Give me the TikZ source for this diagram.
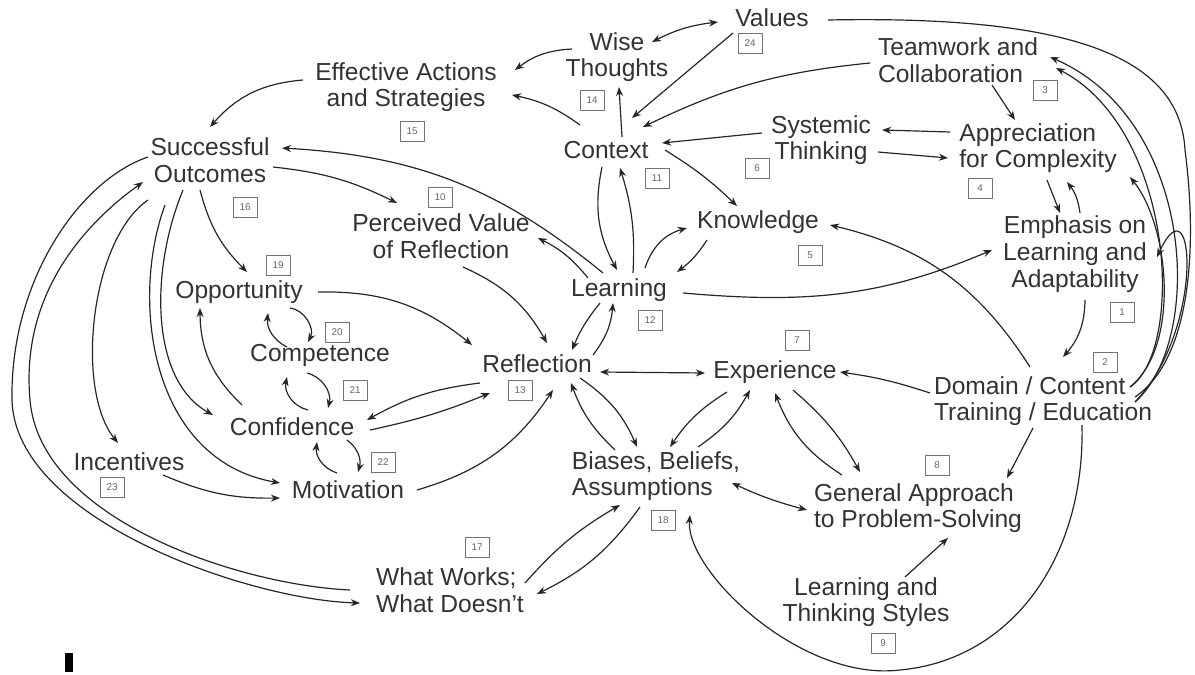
\documentclass[tikz,border=0pt]{standalone}
\usepackage{fontspec}
\setmainfont{Liberation Sans}
\usetikzlibrary{arrows.meta,calc}

\begin{document}
\begin{tikzpicture}[x=0.025cm,y=-0.025cm,
    lbl/.style={font=\fontsize{17.5}{19}\selectfont, text=black!80, inner sep=1pt, align=center},
    lbll/.style={lbl, align=left},
    num/.style={draw=black!55, line width=0.6pt, font=\fontsize{7}{8}\selectfont, text=black!60,
      minimum width=0.6cm, minimum height=0.5cm, inner sep=0pt},
    link/.style={line width=0.85pt, black!85},
    >={Stealth[length=6.5pt,width=5pt]}]
    \useasboundingbox (0,0) rectangle (1195,675);
    % factors
    \node[lbl] (values) at (772,18) {Values};
    \node[lbl] (wise) at (617,57) {Wise\\Thoughts};
    \node[lbl] (effective) at (406,87) {Effective Actions\\and Strategies};
    \node[lbll] (teamwork) at (958,60) {Teamwork and\\Collaboration};
    \node[lbl] (success) at (210,160) {Successful\\Outcomes};
    \node[lbl] (context) at (606,150) {Context};
    \node[lbl] (systemic) at (821,140) {Systemic\\Thinking};
    \node[lbll] (apprec) at (1038,148) {Appreciation\\for Complexity};
    \node[lbl] (knowledge) at (758,222) {Knowledge};
    \node[lbl] (perceived) at (441,236) {Perceived Value\\of Reflection};
    \node[lbl] (emphasis) at (1075,254) {Emphasis on\\Learning and\\Adaptability};
    \node[lbl] (opport) at (239,292) {Opportunity};
    \node[lbl] (learning) at (619,290) {Learning};
    \node[lbl] (compet) at (320,355) {Competence};
    \node[lbl] (reflect) at (537,364) {Reflection};
    \node[lbl] (exper) at (775,372) {Experience};
    \node[lbll] (domain) at (1043,401) {Domain / Content\\Training / Education};
    \node[lbl] (confid) at (292,427) {Confidence};
    \node[lbl] (incent) at (129,462) {Incentives};
    \node[lbl] (motiv) at (348,490) {Motivation};
    \node[lbll] (biases) at (656,476) {Biases, Beliefs,\\Assumptions};
    \node[lbll] (general) at (918,508) {General Approach\\to Problem-Solving};
    \node[lbll] (works) at (450,590) {What Works;\\What Doesn't};
    \node[lbl] (styles) at (866,602) {Learning and\\Thinking Styles};
    % numbers
    \foreach \n/\x/\y in {24/750/43, 14/592/100, 15/412/131, 3/1045/90, 16/245/207, 11/657/178,
      6/757/168, 4/980/188, 10/440/197, 5/810/255, 1/1122/312, 19/278/265, 12/650/320,
      20/337/332, 13/520/390, 7/797/340, 2/1105/362, 21/355/390, 23/112/487, 22/383/462,
      18/663/520, 8/937/465, 17/477/547, 9/883/643}
    \node[num] (n\n) at (\x,\y) {\n};
    % top
    \draw[link,<->] ($(wise)+(35,-15)$) to[bend left=10] ($(values)+(-54,4)$);
    \draw[link,->] ($(values)+(-39,15)$) -- ($(context)+(26,-32)$);
    \draw[link,->] ($(teamwork)+(-88,3)$) to[bend right=10] ($(context)+(37,-23)$);
    \draw[link,->] ($(teamwork)+(34,25)$) -- ($(apprec)+(-23,-28)$);
    \draw[link,->] ($(apprec)+(-88,-16)$) -- ($(systemic)+(61,-10)$);
    \draw[link,->] ($(systemic)+(57,12)$) -- ($(apprec)+(-90,10)$);
    \draw[link,->] ($(apprec)+(9,32)$) -- ($(emphasis)+(-15,-41)$);
    \draw[link,->] ($(emphasis)+(5,-41)$) to[bend right=15] ($(apprec)+(29,34)$);
    \draw[link,->] ($(systemic)+(-59,-7)$) -- ($(context)+(56,-7)$);
    \draw[link,->] ($(context)+(59,0)$) to[bend left=6] ($(knowledge)+(-21,-16)$);
    \draw[link,->] ($(context)+(16,-13)$) -- ($(wise)+(2,30)$);
    \draw[link,->] ($(context)+(-26,-25)$) to[bend right=12] ($(effective)+(106,8)$);
    \draw[link,->] ($(wise)+(-45,-8)$) to[bend right=17] ($(effective)+(109,-17)$);
    \draw[link,->] ($(effective)+(-103,-7)$) to[bend right=22] ($(success)+(0,-33)$);
    % learning
    \draw[link,->] ($(learning)+(-16,-17)$) to[bend right=18] ($(success)+(72,-12)$);
    \draw[link,->] ($(success)+(63,7)$) to[bend left=10] ($(perceived)+(-44,-33)$);
    \draw[link,->] ($(learning)+(-31,-12)$) to[bend right=12] ($(perceived)+(97,2)$);
    \draw[link,->] ($(context)+(-4,17)$) to[bend right=20] ($(learning)+(-2,-20)$);
    \draw[link,->] ($(learning)+(14,-17)$) to[bend right=10] ($(context)+(14,18)$);
    \draw[link,->] ($(learning)+(26,-22)$) to[bend left=28] ($(knowledge)+(-71,6)$);
    \draw[link,->] ($(knowledge)+(-51,18)$) to[bend left=10] ($(learning)+(58,-18)$);
    \draw[link,->] ($(learning)+(64,3)$) to[out=-5,in=203] ($(emphasis)+(-83,-4)$);
    % domain / content
    \draw[link,->] ($(emphasis)+(10,46)$) to[bend left=20] ($(domain)+(20,-44)$);
    \draw[link,->] ($(domain)+(-13,-34)$) to[bend right=22] ($(knowledge)+(72,3)$);
    \draw[link,->] ($(domain)+(-113,-8)$) to[bend right=5] ($(exper)+(65,0)$);
    \draw[link,->] ($(domain)+(-10,27)$) -- ($(general)+(89,-30)$);
    \draw[link,->] ($(domain)+(39,24)$) .. controls +(3,135) and +(110,-10) .. ($(biases)+(244,194)$)
      .. controls +(-100,12) and +(-5,55) .. ($(biases)+(34,39)$);
    \draw[link] ($(values)+(56,2)$) .. controls +(252,-5) and +(-5,-90) .. ($(domain)+(142,-251)$)
      .. controls +(13,100) and +(55,-37) .. ($(domain)+(92,-4)$);
    \draw[link,->] ($(domain)+(92,1)$) .. controls +(70,-62) and +(145,63) .. ($(teamwork)+(92,-3)$);
    \draw[link,->] ($(domain)+(92,1)$) .. controls +(70,-72) and +(38,-82) .. ($(emphasis)+(82,3)$);
    \draw[link,->] ($(domain)+(87,-14)$) .. controls +(55,-37) and +(119,62) .. ($(teamwork)+(98,8)$);
    \draw[link,->] ($(domain)+(87,-14)$) .. controls +(50,-40) and +(40,50) .. ($(apprec)+(92,29)$);
    % experience and biases
    \draw[link,->] ($(general)+(-76,-33)$) to[bend left=18] ($(exper)+(0,21)$);
    \draw[link,->] ($(exper)+(18,18)$) to[bend left=10] ($(general)+(-58,-36)$);
    \draw[link,->] ($(exper)+(-48,20)$) to[bend right=12] ($(biases)+(14,-29)$);
    \draw[link,->] ($(biases)+(42,-29)$) to[bend right=13] ($(exper)+(-25,18)$);
    \draw[link,<->] ($(reflect)+(63,8)$) -- ($(exper)+(-70,1)$);
    \draw[link,->] ($(reflect)+(43,14)$) to[bend left=16] ($(biases)+(-19,-29)$);
    \draw[link,->] ($(biases)+(-41,-26)$) to[bend left=13] ($(reflect)+(34,19)$);
    \draw[link,<->] ($(biases)+(76,7)$) to[bend right=5] ($(general)+(-111,2)$);
    \draw[link,->] ($(styles)+(39,-25)$) -- ($(general)+(30,30)$);
    \draw[link,->] ($(works)+(75,-7)$) to[bend left=9] ($(biases)+(-36,29)$);
    \draw[link,->] ($(biases)+(-16,31)$) to[bend left=14] ($(works)+(87,4)$);
    % reflection
    \draw[link,->] ($(reflect)+(56,-9)$) to[bend right=16] ($(learning)+(-6,13)$);
    \draw[link,->] ($(learning)+(-19,13)$) to[bend right=8] ($(reflect)+(35,-14)$);
    \draw[link,->] ($(perceived)+(22,31)$) to[bend left=18] ($(reflect)+(10,-21)$);
    \draw[link,->] ($(opport)+(79,0)$) to[bend left=20] ($(reflect)+(-65,-19)$);
    \draw[link,->] ($(reflect)+(-57,19)$) to[bend right=11] ($(confid)+(75,-7)$);
    \draw[link,->] ($(confid)+(78,3)$) to[bend right=5] ($(reflect)+(-47,29)$);
    \draw[link,->] ($(motiv)+(69,0)$) to[bend right=20] ($(reflect)+(16,26)$);
    % outcomes side
    \draw[link,->] ($(success)+(-10,30)$) to[bend right=15] ($(opport)+(8,-20)$);
    \draw[link,->] ($(confid)+(-50,-22)$) to[bend left=23] ($(opport)+(-39,16)$);
    \draw[link,->] ($(opport)+(51,16)$) to[bend left=55] ($(compet)+(-12,-13)$);
    \draw[link,->] ($(compet)+(-33,-8)$) to[bend left=35] ($(opport)+(29,21)$);
    \draw[link,->] ($(compet)+(-13,18)$) to[bend left=45] ($(confid)+(36,-19)$);
    \draw[link,->] ($(confid)+(16,-17)$) to[bend left=45] ($(compet)+(-33,22)$);
    \draw[link,->] ($(motiv)+(-11,-17)$) to[bend left=40] ($(confid)+(25,15)$);
    \draw[link,->] ($(confid)+(55,13)$) to[bend left=35] ($(motiv)+(10,-18)$);
    \draw[link,->] ($(incent)+(34,13)$) to[bend right=12] ($(motiv)+(-68,8)$);
    \draw[link,->] ($(success)+(-62,40)$) .. controls +(-58,40) and +(-43,-53) .. ($(incent)+(-11,-19)$);
    \draw[link,->] ($(success)+(-27,30)$) .. controls +(-33,80) and +(-63,-35) .. ($(confid)+(-79,-12)$);
    \draw[link,->] ($(success)+(-45,45)$) .. controls +(-35,95) and +(-130,-23) .. ($(motiv)+(-68,-7)$);
    \draw[link,->] ($(success)+(-62,-3)$) .. controls +(-68,23) and +(-2,-120) .. ($(success)+(-198,240)$)
      .. controls +(3,120) and +(-110,-3) .. ($(works)+(-90,13)$);
    \draw[link,->] ($(works)+(-100,0)$) .. controls +(-110,-5) and +(10,120) .. ($(success)+(-180,240)$)
      .. controls +(-10,-110) and +(-53,38) .. ($(success)+(-67,22)$);
    \fill[black] (65,653) rectangle (73,672);
\end{tikzpicture}
\end{document}
